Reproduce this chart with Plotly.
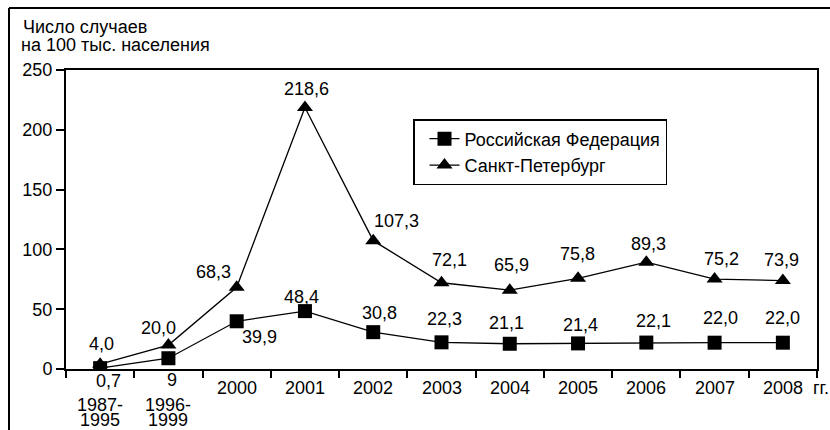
import plotly.graph_objects as go

# Incidence per 100 thousand population
periods = ["1987-<br>1995", "1996-<br>1999", "2000", "2001", "2002", "2003",
           "2004", "2005", "2006", "2007", "2008"]
russia = [0.7, 9, 39.9, 48.4, 30.8, 22.3, 21.1, 21.4, 22.1, 22.0, 22.0]
spb = [4.0, 20.0, 68.3, 218.6, 107.3, 72.1, 65.9, 75.8, 89.3, 75.2, 73.9]
y_ticks = [0, 50, 100, 150, 200, 250]

# pixel offsets of the value labels relative to their markers
russia_off = [(8, -13), (4, -22), (23, -16), (-3, 14), (6, 19), (3, 23),
              (-3, 21), (2, 18), (7, 22), (6, 25), (0, 25)]
spb_off = [(1, 20), (-10, 17), (-23, 15), (2, 19), (23, 20), (8, 23),
           (2, 25), (-1, 24), (2, 18), (7, 20), (-1, 21)]

FONT = "Liberation Sans, Arial, sans-serif"
FS = 18
W, H = 830, 430
L, R, T, B = 66, 13, 70, 61
PW, PH = W - L - R, H - T - B


def px(x):
    return (x - L) / PW


def py(y):
    return (H - B - y) / PH


def fmt(v):
    return str(v) if isinstance(v, int) else f"{v:.1f}".replace(".", ",")


def text_font(size=FS):
    return dict(family=FONT, size=size, color="black")


xs = list(range(len(periods)))

fig = go.Figure()
fig.add_trace(go.Scatter(
    x=xs, y=russia, mode="lines+markers", name="Российская Федерация",
    line=dict(color="black", width=1.3),
    marker=dict(symbol="square", size=14, color="black"),
))
fig.add_trace(go.Scatter(
    x=xs, y=spb, mode="lines+markers", name="Санкт-Петербург",
    line=dict(color="black", width=1.3),
    marker=dict(symbol="triangle-up", size=14, color="black"),
))

ann = []
for series, offs in ((russia, russia_off), (spb, spb_off)):
    for i, v in enumerate(series):
        dx, dy = offs[i]
        ann.append(dict(x=xs[i], y=v, xref="x", yref="y", text=fmt(v),
                        showarrow=False, xshift=dx, yshift=dy,
                        xanchor="center", yanchor="middle", font=text_font()))

# category labels under the axis (two-line period labels set tighter)
for i, lab in enumerate(periods):
    lines = lab.split("<br>")
    if len(lines) == 1:
        ann.append(dict(x=xs[i], y=py(388), xref="x", yref="paper", text=lab,
                        showarrow=False, xanchor="center", yanchor="middle",
                        font=text_font()))
    else:
        for k, part in enumerate(lines):
            ann.append(dict(x=xs[i], y=py(405 + 15 * k), xref="x", yref="paper",
                            text=part, showarrow=False, xanchor="center",
                            yanchor="middle", font=text_font()))

ann.append(dict(x=px(811), y=py(388), xref="paper", yref="paper", text="гг.",
                showarrow=False, xanchor="left", yanchor="middle",
                font=text_font()))
ann.append(dict(x=px(21), y=py(27), xref="paper", yref="paper",
                text="Число случаев", showarrow=False, xanchor="left",
                yanchor="middle", font=text_font()))
ann.append(dict(x=px(19), y=py(45), xref="paper", yref="paper",
                text="на 100 тыс. населения", showarrow=False, xanchor="left",
                yanchor="middle", font=text_font()))

fig.update_layout(
    width=W, height=H,
    margin=dict(l=L, r=R, t=T, b=B),
    paper_bgcolor="white", plot_bgcolor="white",
    font=text_font(),
    showlegend=True,
    legend=dict(x=px(413), y=py(119), xanchor="left", yanchor="top",
                bordercolor="black", borderwidth=1.5, bgcolor="white",
                font=text_font(), tracegroupgap=0, itemwidth=30,
                indentation=10),
    annotations=ann,
    shapes=[
        dict(type="line", xref="paper", yref="paper", x0=px(9), x1=px(840),
             y0=py(8), y1=py(8), line=dict(color="black", width=2)),
        dict(type="line", xref="paper", yref="paper", x0=px(9), x1=px(9),
             y0=py(8), y1=py(440), line=dict(color="black", width=2)),
    ],
)
fig.update_xaxes(
    range=[-0.5, len(periods) - 0.5], showgrid=False, zeroline=False,
    showline=True, linecolor="black", linewidth=2, mirror=True,
    tickmode="array", tickvals=[i + 0.5 for i in range(-1, len(periods))],
    ticks="outside", ticklen=7, tickwidth=1.5, tickcolor="black",
    showticklabels=False,
)
fig.update_yaxes(
    range=[0, 250], showgrid=False, zeroline=False,
    showline=True, linecolor="black", linewidth=2, mirror=True,
    tickmode="array", tickvals=y_ticks, ticks="outside", ticklen=8,
    tickwidth=1.5, tickcolor="black", tickfont=text_font(),
)

fig.write_html("out.html")
